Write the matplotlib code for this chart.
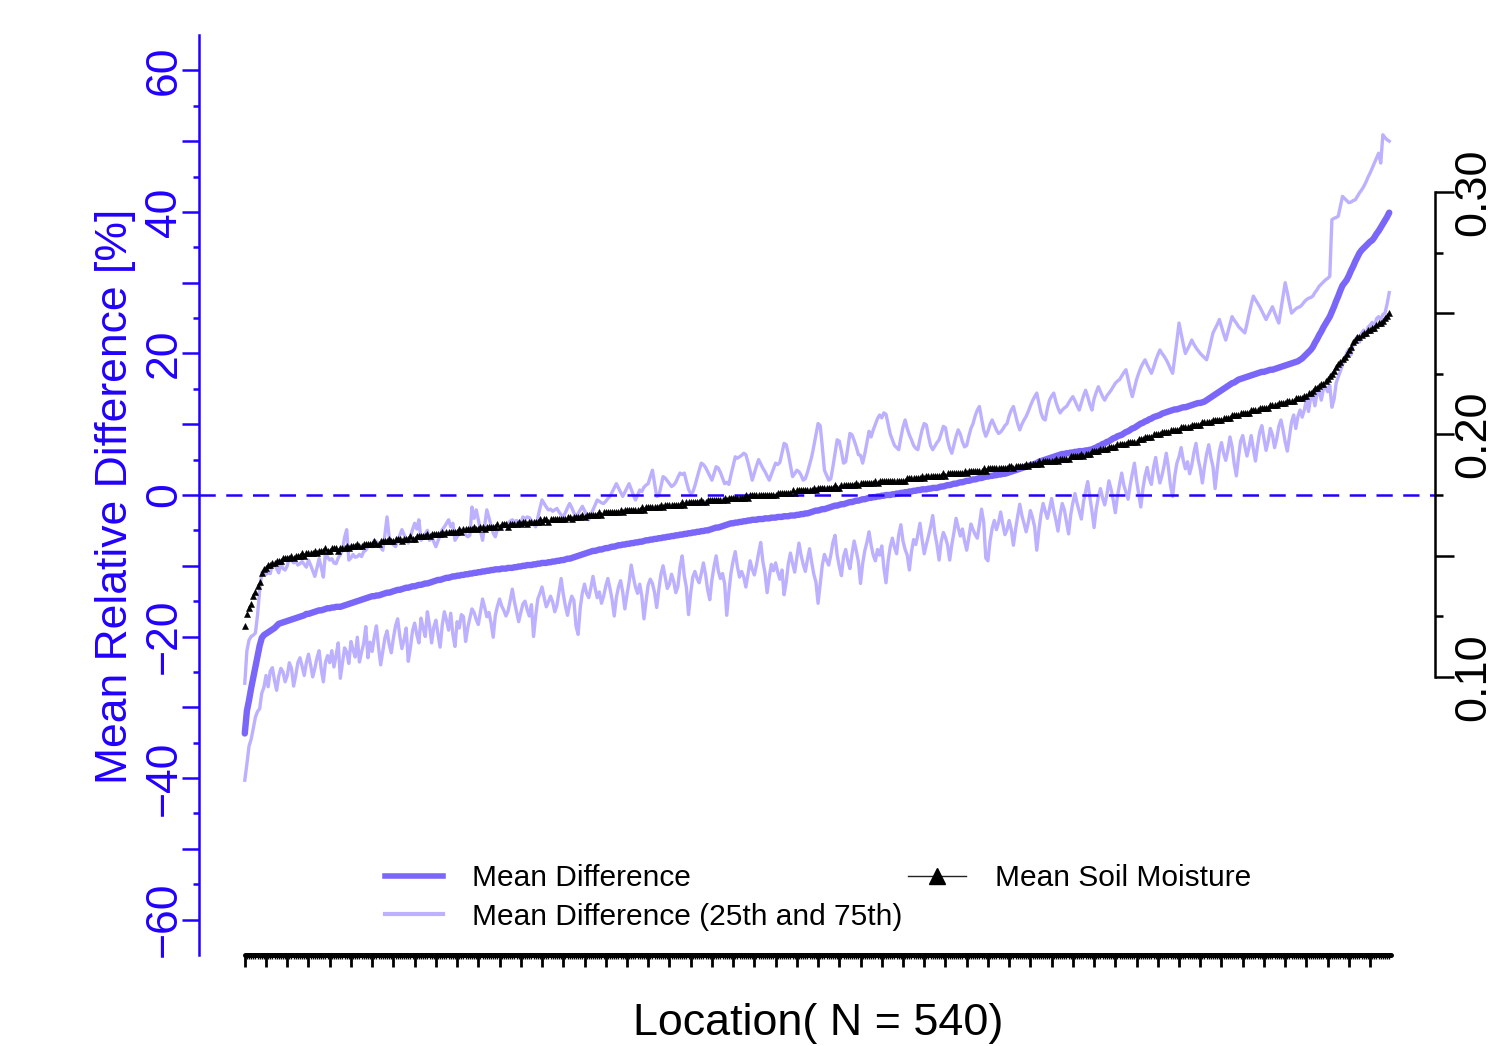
import numpy as np
from matplotlib import pyplot as plt
from matplotlib.lines import Line2D
from matplotlib.ticker import FixedLocator, FuncFormatter

plt.rcParams['font.family'] = ['Liberation Sans', 'DejaVu Sans']

# mean relative difference per location (sorted), percent
mean_diff = [
    -33.7, -30.5, -29.0, -27.3, -25.8, -24.3, -22.8, -21.3, -20.2, -19.8,
    -19.6, -19.4, -19.2, -19.0, -18.8, -18.5, -18.2, -18.1, -18.0, -17.9,
    -17.8, -17.7, -17.6, -17.5, -17.4, -17.3, -17.2, -17.1, -17.0, -16.8,
    -16.8, -16.7, -16.6, -16.5, -16.4, -16.3, -16.3, -16.2, -16.1, -16.0,
    -16.0, -15.9, -15.9, -15.8, -15.8, -15.8, -15.7, -15.6, -15.5, -15.4,
    -15.3, -15.2, -15.1, -15.0, -14.9, -14.8, -14.7, -14.6, -14.5, -14.4,
    -14.3, -14.3, -14.2, -14.2, -14.1, -14.0, -13.9, -13.8, -13.8, -13.7,
    -13.6, -13.5, -13.4, -13.4, -13.3, -13.2, -13.1, -13.1, -13.0, -12.9,
    -12.9, -12.8, -12.7, -12.7, -12.6, -12.5, -12.5, -12.4, -12.3, -12.2,
    -12.1, -12.0, -12.0, -11.9, -11.8, -11.7, -11.7, -11.6, -11.5, -11.5,
    -11.4, -11.4, -11.3, -11.3, -11.2, -11.2, -11.1, -11.1, -11.0, -11.0,
    -10.9, -10.9, -10.8, -10.8, -10.7, -10.7, -10.6, -10.6, -10.5, -10.5,
    -10.5, -10.4, -10.4, -10.4, -10.3, -10.3, -10.3, -10.2, -10.2, -10.1,
    -10.1, -10.0, -10.0, -9.9, -9.9, -9.9, -9.8, -9.8, -9.7, -9.7,
    -9.6, -9.6, -9.6, -9.5, -9.5, -9.4, -9.4, -9.3, -9.3, -9.2,
    -9.2, -9.1, -9.0, -9.0, -8.9, -8.8, -8.7, -8.6, -8.5, -8.4,
    -8.3, -8.2, -8.1, -8.0, -7.9, -7.9, -7.8, -7.7, -7.7, -7.6,
    -7.5, -7.5, -7.4, -7.3, -7.3, -7.2, -7.1, -7.1, -7.0, -7.0,
    -6.9, -6.9, -6.8, -6.8, -6.7, -6.7, -6.6, -6.6, -6.5, -6.4,
    -6.4, -6.3, -6.3, -6.2, -6.2, -6.1, -6.1, -6.0, -6.0, -5.9,
    -5.9, -5.8, -5.8, -5.7, -5.7, -5.6, -5.6, -5.5, -5.5, -5.4,
    -5.4, -5.3, -5.3, -5.2, -5.2, -5.1, -5.1, -5.0, -5.0, -4.9,
    -4.8, -4.7, -4.6, -4.6, -4.5, -4.4, -4.3, -4.2, -4.1, -4.0,
    -4.0, -3.9, -3.9, -3.8, -3.8, -3.7, -3.7, -3.6, -3.6, -3.5,
    -3.5, -3.5, -3.4, -3.4, -3.4, -3.3, -3.3, -3.3, -3.2, -3.2,
    -3.2, -3.1, -3.1, -3.1, -3.0, -3.0, -3.0, -2.9, -2.9, -2.9,
    -2.8, -2.8, -2.7, -2.7, -2.6, -2.6, -2.5, -2.4, -2.3, -2.2,
    -2.2, -2.1, -2.0, -2.0, -1.9, -1.8, -1.7, -1.6, -1.5, -1.5,
    -1.4, -1.3, -1.3, -1.2, -1.1, -1.0, -1.0, -0.9, -0.8, -0.8,
    -0.7, -0.6, -0.6, -0.5, -0.4, -0.4, -0.3, -0.3, -0.2, -0.2,
    -0.1, -0.1, 0.0, 0.0, 0.0, 0.1, 0.1, 0.2, 0.2, 0.3,
    0.3, 0.4, 0.4, 0.5, 0.5, 0.6, 0.6, 0.7, 0.7, 0.8,
    0.8, 0.8, 0.9, 0.9, 1.0, 1.0, 1.0, 1.1, 1.2, 1.2,
    1.3, 1.4, 1.4, 1.5, 1.6, 1.6, 1.7, 1.8, 1.8, 1.9,
    2.0, 2.0, 2.1, 2.2, 2.2, 2.3, 2.4, 2.4, 2.5, 2.6,
    2.6, 2.7, 2.7, 2.8, 2.8, 2.9, 2.9, 3.0, 3.0, 3.1,
    3.2, 3.3, 3.4, 3.5, 3.6, 3.7, 3.8, 3.9, 4.0, 4.1,
    4.2, 4.3, 4.4, 4.5, 4.7, 4.8, 4.9, 5.0, 5.1, 5.2,
    5.3, 5.4, 5.5, 5.6, 5.7, 5.8, 5.8, 5.9, 5.9, 6.0,
    6.0, 6.1, 6.1, 6.2, 6.2, 6.2, 6.3, 6.3, 6.4, 6.4,
    6.6, 6.7, 6.9, 7.0, 7.2, 7.3, 7.5, 7.6, 7.8, 8.0,
    8.1, 8.3, 8.4, 8.5, 8.7, 8.9, 9.0, 9.2, 9.4, 9.5,
    9.7, 9.9, 10.1, 10.2, 10.4, 10.5, 10.7, 10.8, 11.0, 11.1,
    11.2, 11.3, 11.5, 11.6, 11.7, 11.8, 11.9, 12.0, 12.1, 12.1,
    12.2, 12.3, 12.4, 12.4, 12.5, 12.6, 12.7, 12.8, 12.9, 13.0,
    13.0, 13.1, 13.2, 13.4, 13.6, 13.8, 14.0, 14.2, 14.4, 14.6,
    14.8, 15.0, 15.2, 15.4, 15.6, 15.8, 15.9, 16.1, 16.3, 16.4,
    16.5, 16.6, 16.7, 16.8, 16.9, 17.0, 17.1, 17.2, 17.3, 17.4,
    17.4, 17.5, 17.6, 17.7, 17.7, 17.8, 17.9, 18.0, 18.1, 18.2,
    18.3, 18.4, 18.5, 18.6, 18.7, 18.8, 18.9, 19.1, 19.3, 19.6,
    19.9, 20.2, 20.5, 20.9, 21.5, 22.0, 22.6, 23.1, 23.7, 24.2,
    24.7, 25.2, 25.9, 26.6, 27.4, 28.1, 28.9, 29.6, 30.0, 30.4,
    31.0, 31.7, 32.3, 33.0, 33.6, 34.2, 34.6, 34.9, 35.2, 35.5,
    35.8, 36.0, 36.4, 36.9, 37.3, 37.8, 38.3, 38.8, 39.3, 39.9,
]

# 25th percentile of the relative difference
q25 = [
    -40.3, -38.0, -35.5, -34.5, -33.0, -31.4, -30.6, -30.2, -28.0, -27.2,
    -25.5, -27.1, -24.9, -24.4, -26.2, -27.6, -25.6, -24.5, -25.0, -26.4,
    -25.5, -23.7, -24.5, -27.0, -25.5, -23.7, -23.0, -24.2, -25.5, -23.7,
    -22.5, -24.0, -25.7, -24.5, -23.0, -22.0, -24.6, -26.4, -23.6, -22.7,
    -23.7, -22.0, -24.3, -22.7, -20.9, -25.9, -23.8, -21.6, -22.2, -23.8,
    -20.7, -21.9, -22.9, -20.1, -23.6, -22.2, -21.0, -18.6, -23.0, -20.8,
    -22.1, -20.0, -18.5, -21.5, -24.0, -22.1, -20.2, -19.2, -21.1, -22.3,
    -20.2, -18.5, -17.5, -19.9, -21.7, -20.5, -18.8, -23.5, -21.6, -19.2,
    -18.1, -19.7, -20.9, -17.4, -18.8, -20.0, -16.5, -18.4, -20.9, -18.7,
    -17.7, -19.7, -21.5, -18.4, -16.5, -17.7, -19.1, -16.7, -19.7, -21.4,
    -17.9, -18.8, -16.9, -17.2, -20.7, -18.8, -17.4, -16.1, -16.6, -17.6,
    -18.3, -16.5, -14.7, -15.9, -17.2, -16.6, -18.1, -20.1, -17.0, -15.7,
    -14.7, -15.7, -16.3, -17.1, -16.4, -14.9, -13.3, -15.1, -16.5, -17.9,
    -16.6, -15.4, -15.0, -16.2, -17.1, -15.5, -20.0, -17.1, -14.7, -13.9,
    -13.0, -14.5, -15.8, -15.1, -14.3, -15.1, -16.5, -15.6, -13.7, -11.8,
    -14.0, -15.7, -17.0, -15.4, -14.3, -14.9, -18.5, -19.7, -15.9, -13.8,
    -12.6, -13.9, -14.5, -13.1, -11.5, -13.2, -14.5, -13.7, -15.3, -14.3,
    -12.9, -11.8, -13.2, -14.8, -17.1, -14.5, -13.0, -12.1, -13.7, -16.1,
    -14.1, -12.3, -9.9, -11.6, -13.0, -13.9, -12.6, -14.3, -17.5, -15.0,
    -12.7, -11.9, -12.5, -13.8, -15.9, -13.4, -11.2, -10.0, -11.6, -13.2,
    -12.6, -11.2, -12.2, -13.8, -12.9, -10.1, -8.6, -11.4, -13.1, -16.9,
    -13.9, -11.6, -10.8, -11.8, -12.4, -11.1, -9.6, -11.2, -13.4, -14.8,
    -12.0, -10.1, -8.6, -10.7, -11.8, -11.1, -12.5, -17.0, -13.7, -11.0,
    -9.3, -8.0, -10.1, -11.6, -10.8, -11.6, -13.0, -11.2, -9.3, -10.5,
    -11.3, -9.9, -8.2, -6.7, -9.4, -11.0, -13.8, -11.6, -9.8, -10.7,
    -9.6, -10.9, -11.9, -10.6, -14.1, -12.3, -9.7, -8.2, -9.7, -10.9,
    -8.8, -6.8, -8.5, -9.8, -10.8, -9.1, -7.6, -9.5, -11.2, -12.3,
    -15.3, -12.6, -9.9, -8.4, -9.2, -9.9, -8.5, -6.7, -5.7, -8.5,
    -10.1, -11.4, -8.7, -7.7, -9.3, -10.4, -8.3, -6.5, -7.9, -9.4,
    -12.5, -9.7, -7.9, -6.7, -5.2, -7.1, -8.5, -9.3, -7.7, -8.5,
    -7.2, -10.3, -12.4, -9.3, -7.3, -6.1, -7.4, -8.3, -5.6, -4.2,
    -6.5, -7.7, -8.5, -10.6, -8.0, -6.3, -7.0, -5.6, -4.0, -6.3,
    -8.3, -7.0, -5.8, -4.5, -2.9, -5.4, -7.0, -9.2, -6.6, -5.3,
    -6.0, -7.1, -9.2, -7.0, -5.3, -3.3, -4.6, -5.8, -4.8, -6.5,
    -7.8, -6.0, -4.1, -4.9, -5.6, -6.1, -4.2, -2.0, -3.8, -8.9,
    -9.3, -6.5, -4.7, -3.6, -4.9, -3.9, -2.4, -4.1, -5.6, -4.9,
    -3.6, -4.9, -7.1, -4.9, -3.0, -1.3, -2.9, -4.0, -5.2, -3.9,
    -2.2, -3.2, -4.5, -7.8, -5.0, -2.7, -1.2, -2.3, -3.3, -2.0,
    -0.5, -2.2, -3.5, -5.1, -2.8, -1.2, -2.1, -3.8, -5.5, -2.8,
    -1.1, 0.2, -1.2, -2.3, -3.4, -1.0, 0.5, 1.9, -0.3, -2.3,
    -4.6, -2.0, -0.3, 0.9, -0.4, -1.4, 0.0, 2.0, 0.8, -0.7,
    -2.5, -0.2, 1.5, 3.1, 1.4, 0.4, -0.6, 1.4, 3.0, 4.5,
    2.1, 0.2, -1.7, 0.9, 2.7, 3.9, 2.3, 1.5, 3.9, 5.3,
    3.2, 1.7, 2.8, 4.2, 5.9, 3.9, 1.3, -0.2, 2.7, 4.5,
    5.4, 6.7, 4.9, 3.7, 4.7, 3.0, 4.2, 6.0, 7.3, 5.1,
    3.7, 1.7, 4.0, 5.8, 7.1, 5.3, 4.0, 0.9, 3.7, 6.2,
    7.4, 5.9, 4.9, 6.3, 8.2, 6.8, 4.4, 2.7, 5.3, 7.6,
    8.4, 6.9, 5.5, 6.8, 8.4, 6.5, 4.8, 7.0, 8.9, 9.8,
    8.0, 6.3, 7.6, 9.4, 8.5, 6.7, 7.9, 9.7, 10.6, 9.2,
    7.5, 6.2, 8.3, 10.3, 11.3, 9.4, 11.1, 12.0, 11.0, 12.0,
    13.5, 11.8, 13.8, 14.1, 12.6, 14.4, 14.7, 13.4, 15.0, 15.3,
    14.6, 15.5, 12.4, 13.5, 15.8, 16.7, 17.5, 18.4, 19.2, 20.1,
    20.6, 19.8, 21.2, 21.9, 22.4, 21.6, 22.9, 23.3, 22.5, 23.7,
    24.0, 24.4, 23.6, 24.9, 25.2, 24.7, 25.5, 25.7, 27.0, 28.6,
]

# 75th percentile of the relative difference
q75 = [
    -26.6, -22.0, -20.5, -20.0, -19.8, -19.5, -17.0, -13.5, -11.0, -10.6,
    -11.2, -11.0, -11.1, -9.7, -9.8, -10.4, -11.0, -9.6, -10.4, -10.6,
    -10.0, -8.8, -9.2, -9.6, -9.3, -9.9, -9.7, -9.4, -9.8, -10.2,
    -9.2, -9.9, -10.7, -11.5, -10.3, -9.0, -10.2, -11.6, -8.2, -8.8,
    -9.2, -9.0, -9.6, -9.7, -8.9, -8.4, -7.8, -6.0, -4.9, -9.2,
    -8.9, -8.4, -8.8, -8.7, -8.4, -8.7, -8.0, -7.8, -7.3, -7.2,
    -7.3, -6.4, -6.6, -6.9, -7.4, -7.8, -5.6, -3.1, -5.9, -6.8,
    -7.0, -7.3, -6.5, -5.7, -4.9, -5.6, -6.2, -6.8, -5.9, -4.9,
    -4.0, -4.8, -3.5, -6.4, -6.0, -5.5, -5.0, -6.4, -5.8, -6.6,
    -7.3, -6.5, -5.7, -4.9, -4.5, -4.0, -3.5, -4.5, -4.0, -6.4,
    -5.9, -5.4, -4.9, -5.3, -5.6, -5.9, -5.7, -1.7, -3.3, -2.1,
    -3.5, -5.0, -6.4, -4.2, -2.1, -3.2, -4.3, -5.4, -5.9, -4.8,
    -4.9, -4.6, -4.5, -4.1, -4.0, -3.7, -3.5, -3.8, -3.6, -3.9,
    -4.0, -3.1, -3.4, -3.1, -3.2, -3.6, -4.1, -4.5, -3.2, -1.9,
    -0.7, -1.2, -1.7, -2.1, -2.0, -2.3, -2.1, -1.9, -2.4, -2.8,
    -3.1, -2.5, -1.8, -1.2, -1.8, -2.5, -3.1, -2.6, -2.1, -1.6,
    -2.2, -2.9, -3.5, -2.8, -2.1, -1.4, -0.7, -0.9, -1.1, -1.2,
    -0.9, -0.5, -0.2, 0.4, 1.0, 1.6, 1.0, 0.4, -0.2, 0.4,
    1.0, 1.6, 0.8, 0.0, -0.7, 0.0, 0.7, 0.5, 1.1, 1.4,
    1.6, 2.6, 3.5, 1.6, -0.2, -0.1, 1.2, 2.6, 2.4, 2.0,
    1.6, 1.2, 1.4, 1.8, 2.5, 3.1, 2.9, 3.1, 1.9, 0.8,
    0.2, 0.4, 1.3, 2.4, 3.5, 4.5, 4.3, 3.9, 3.3, 2.7,
    2.1, 3.0, 4.0, 3.8, 3.2, 2.4, 1.6, 1.8, 1.5, 2.9,
    4.1, 5.4, 5.2, 5.4, 5.6, 5.9, 5.7, 4.6, 3.4, 2.1,
    3.1, 4.1, 5.0, 4.4, 3.8, 3.3, 2.7, 2.1, 2.9, 3.7,
    4.5, 4.3, 4.6, 5.9, 7.3, 7.1, 5.8, 4.2, 2.6, 3.0,
    3.5, 3.3, 2.8, 2.1, 2.3, 3.2, 4.3, 5.4, 6.9, 8.5,
    10.1, 9.8, 6.8, 3.5, 2.8, 2.1, 2.3, 4.0, 5.9, 7.8,
    7.6, 6.2, 4.5, 4.7, 6.6, 8.7, 8.5, 7.7, 6.8, 5.7,
    5.6, 4.5, 5.8, 7.4, 9.0, 8.2, 9.2, 10.0, 10.8, 11.3,
    10.9, 11.6, 11.4, 10.0, 8.6, 7.8, 7.0, 6.7, 6.4, 8.1,
    9.6, 10.6, 9.4, 8.5, 7.8, 7.0, 6.6, 6.4, 7.9, 9.2,
    10.1, 9.9, 8.3, 7.0, 6.4, 6.9, 7.4, 7.8, 8.7, 9.7,
    9.5, 7.8, 6.6, 5.9, 7.1, 8.3, 9.2, 8.6, 7.5, 6.8,
    7.0, 8.3, 9.4, 10.1, 11.2, 12.0, 12.5, 10.8, 9.2, 8.3,
    9.0, 10.0, 10.6, 9.9, 9.2, 8.7, 8.9, 9.3, 9.8, 10.1,
    11.2, 12.0, 12.5, 11.3, 10.1, 9.2, 10.0, 10.6, 11.1, 11.8,
    12.6, 13.3, 13.9, 14.4, 13.0, 11.6, 10.8, 10.6, 12.2, 13.4,
    14.0, 14.4, 13.2, 12.3, 11.6, 12.0, 12.3, 12.5, 13.0, 13.5,
    13.9, 13.3, 12.6, 12.0, 13.0, 14.0, 14.8, 13.9, 12.8, 12.0,
    13.6, 14.5, 15.3, 14.6, 13.9, 13.4, 14.0, 14.4, 14.8, 15.3,
    15.8, 16.1, 16.3, 16.8, 17.3, 17.7, 16.4, 15.0, 13.9, 15.1,
    16.3, 17.2, 18.0, 18.6, 19.1, 18.4, 17.8, 17.2, 18.0, 19.0,
    19.8, 20.5, 20.0, 19.6, 19.1, 18.5, 17.8, 17.2, 19.5, 21.8,
    24.3, 22.8, 21.3, 20.0, 20.6, 21.2, 21.9, 21.3, 20.8, 20.4,
    20.0, 19.7, 19.4, 19.1, 20.3, 21.6, 22.9, 23.5, 24.1, 24.8,
    23.8, 22.8, 21.9, 23.0, 24.1, 25.2, 24.7, 24.3, 23.8, 23.5,
    23.2, 22.9, 24.2, 25.6, 26.9, 28.1, 27.6, 27.1, 26.6, 26.0,
    25.4, 24.8, 25.4, 26.0, 26.6, 25.8, 25.0, 24.3, 26.2, 28.1,
    30.0, 28.6, 27.1, 25.7, 26.0, 26.3, 26.5, 26.6, 26.9, 27.3,
    27.6, 27.8, 27.9, 28.1, 28.6, 29.0, 29.5, 29.8, 30.1, 30.4,
    30.6, 30.9, 38.9, 39.1, 39.2, 39.4, 40.8, 42.2, 41.9, 41.6,
    41.3, 41.4, 41.6, 41.7, 42.2, 42.7, 43.1, 43.6, 44.2, 44.9,
    45.5, 46.2, 46.9, 47.6, 48.3, 46.9, 50.9, 50.5, 50.2, 50.0,
]

# mean soil moisture per location (right axis)
soil = [
    0.121, 0.126, 0.1285, 0.130, 0.1335, 0.135, 0.1375, 0.139, 0.143, 0.1445,
    0.145, 0.146, 0.146, 0.147, 0.147, 0.148, 0.148, 0.148, 0.149, 0.149,
    0.149, 0.149, 0.150, 0.149, 0.150, 0.150, 0.150, 0.151, 0.150, 0.151,
    0.151, 0.151, 0.151, 0.152, 0.151, 0.152, 0.152, 0.152, 0.153, 0.152,
    0.152, 0.153, 0.153, 0.153, 0.152, 0.153, 0.153, 0.153, 0.154, 0.153,
    0.154, 0.154, 0.154, 0.155, 0.154, 0.154, 0.155, 0.155, 0.155, 0.155,
    0.155, 0.156, 0.155, 0.155, 0.156, 0.156, 0.156, 0.156, 0.157, 0.156,
    0.156, 0.157, 0.157, 0.157, 0.156, 0.157, 0.157, 0.157, 0.158, 0.157,
    0.157, 0.158, 0.158, 0.158, 0.158, 0.158, 0.159, 0.158, 0.159, 0.159,
    0.159, 0.159, 0.159, 0.160, 0.159, 0.160, 0.160, 0.160, 0.160, 0.160,
    0.160, 0.161, 0.160, 0.161, 0.161, 0.161, 0.161, 0.161, 0.162, 0.161,
    0.161, 0.162, 0.162, 0.161, 0.162, 0.162, 0.162, 0.162, 0.162, 0.163,
    0.162, 0.163, 0.163, 0.163, 0.162, 0.163, 0.163, 0.163, 0.163, 0.164,
    0.163, 0.164, 0.164, 0.163, 0.164, 0.164, 0.164, 0.164, 0.164, 0.165,
    0.164, 0.165, 0.165, 0.164, 0.165, 0.165, 0.165, 0.165, 0.165, 0.165,
    0.165, 0.165, 0.166, 0.166, 0.165, 0.166, 0.166, 0.166, 0.166, 0.167,
    0.166, 0.167, 0.167, 0.167, 0.167, 0.167, 0.167, 0.168, 0.167, 0.168,
    0.168, 0.168, 0.168, 0.168, 0.168, 0.168, 0.168, 0.169, 0.168, 0.169,
    0.169, 0.169, 0.169, 0.169, 0.169, 0.169, 0.169, 0.170, 0.169, 0.170,
    0.170, 0.170, 0.170, 0.170, 0.170, 0.170, 0.171, 0.170, 0.171, 0.171,
    0.171, 0.171, 0.171, 0.171, 0.171, 0.171, 0.172, 0.171, 0.172, 0.172,
    0.172, 0.172, 0.172, 0.172, 0.172, 0.173, 0.172, 0.172, 0.173, 0.173,
    0.173, 0.173, 0.173, 0.173, 0.173, 0.173, 0.174, 0.173, 0.174, 0.174,
    0.174, 0.174, 0.174, 0.174, 0.174, 0.174, 0.175, 0.174, 0.175, 0.175,
    0.175, 0.175, 0.175, 0.175, 0.175, 0.175, 0.175, 0.175, 0.175, 0.175,
    0.175, 0.176, 0.176, 0.176, 0.176, 0.176, 0.176, 0.176, 0.177, 0.176,
    0.177, 0.177, 0.177, 0.177, 0.177, 0.177, 0.177, 0.177, 0.178, 0.177,
    0.178, 0.178, 0.178, 0.178, 0.178, 0.178, 0.178, 0.178, 0.179, 0.178,
    0.178, 0.179, 0.179, 0.179, 0.179, 0.179, 0.179, 0.179, 0.180, 0.179,
    0.180, 0.180, 0.180, 0.180, 0.180, 0.180, 0.180, 0.181, 0.180, 0.181,
    0.181, 0.181, 0.181, 0.181, 0.181, 0.181, 0.181, 0.181, 0.181, 0.181,
    0.181, 0.181, 0.182, 0.182, 0.182, 0.182, 0.182, 0.182, 0.182, 0.183,
    0.182, 0.183, 0.183, 0.183, 0.183, 0.183, 0.183, 0.183, 0.183, 0.184,
    0.183, 0.184, 0.184, 0.184, 0.184, 0.184, 0.184, 0.184, 0.184, 0.185,
    0.184, 0.185, 0.185, 0.185, 0.185, 0.185, 0.185, 0.185, 0.186, 0.185,
    0.186, 0.186, 0.186, 0.186, 0.186, 0.186, 0.186, 0.186, 0.186, 0.186,
    0.187, 0.187, 0.186, 0.187, 0.187, 0.187, 0.187, 0.187, 0.188, 0.187,
    0.188, 0.188, 0.188, 0.188, 0.189, 0.188, 0.189, 0.189, 0.189, 0.189,
    0.189, 0.189, 0.190, 0.189, 0.190, 0.190, 0.190, 0.190, 0.190, 0.191,
    0.191, 0.191, 0.191, 0.191, 0.192, 0.191, 0.192, 0.192, 0.192, 0.193,
    0.193, 0.193, 0.193, 0.194, 0.194, 0.194, 0.194, 0.195, 0.195, 0.195,
    0.195, 0.196, 0.196, 0.196, 0.196, 0.196, 0.197, 0.197, 0.197, 0.197,
    0.197, 0.198, 0.198, 0.198, 0.199, 0.199, 0.199, 0.199, 0.200, 0.200,
    0.200, 0.200, 0.201, 0.201, 0.201, 0.201, 0.202, 0.202, 0.202, 0.202,
    0.202, 0.203, 0.203, 0.203, 0.203, 0.203, 0.204, 0.204, 0.204, 0.204,
    0.204, 0.205, 0.205, 0.205, 0.205, 0.205, 0.206, 0.206, 0.206, 0.206,
    0.206, 0.207, 0.207, 0.207, 0.207, 0.208, 0.208, 0.208, 0.208, 0.209,
    0.209, 0.209, 0.209, 0.209, 0.210, 0.210, 0.210, 0.210, 0.211, 0.211,
    0.211, 0.211, 0.211, 0.212, 0.212, 0.212, 0.212, 0.213, 0.213, 0.213,
    0.213, 0.214, 0.214, 0.214, 0.214, 0.215, 0.215, 0.215, 0.215, 0.216,
    0.216, 0.217, 0.217, 0.218, 0.219, 0.219, 0.220, 0.221, 0.221, 0.222,
    0.223, 0.224, 0.225, 0.226, 0.228, 0.229, 0.230, 0.231, 0.232, 0.233,
    0.235, 0.236, 0.238, 0.239, 0.240, 0.240, 0.241, 0.242, 0.242, 0.243,
    0.243, 0.244, 0.244, 0.245, 0.246, 0.246, 0.247, 0.248, 0.249, 0.250,
]

location = np.arange(len(mean_diff))

blue = '#2200ff'
mean_col = '#7a66f8'
quart_col = '#bcb0ff'

W, H = 1503, 1046
fig = plt.figure(figsize=(W / 100, H / 100), dpi=100)
fig.patch.set_facecolor('white')

# plot region in pixels: x 199..1435, y 35..955
ax = fig.add_axes([199 / W, 1 - 955 / H, (1435 - 199) / W, (955 - 35) / H])
ax.set_xlim(-21.56, 560.56)
ax.set_ylim(-65, 65)

ax.plot(location, q25, color=quart_col, lw=2.4, zorder=2)
ax.plot(location, q75, color=quart_col, lw=2.4, zorder=2)
ax.plot(location, mean_diff, color=mean_col, lw=4.6, solid_capstyle='round', zorder=3)
ax.axhline(0, color=blue, lw=1.8, ls=(0, (6.5, 4.2)), zorder=4)

for s in ['top', 'right']:
    ax.spines[s].set_visible(False)
ax.spines['left'].set_color(blue)
ax.spines['left'].set_linewidth(1.8)
ax.spines['bottom'].set_linewidth(3.6)
ax.spines['bottom'].set_bounds(0, 540)
ax.spines['bottom'].set_capstyle('round')

ax.yaxis.set_major_locator(FixedLocator(np.arange(-60, 61, 10)))
ax.yaxis.set_minor_locator(FixedLocator(np.arange(-55, 56, 10)))
ax.yaxis.set_major_formatter(FuncFormatter(
    lambda v, p: (f'{v:.0f}'.replace('-', '\u2212') if v % 20 == 0 else '')))
ax.tick_params(axis='y', which='major', length=12, width=1.8, color=blue,
               labelcolor=blue, labelsize=32, labelrotation=90, pad=-2)
ax.tick_params(axis='y', which='minor', length=4.5, width=1.8, color=blue)
for lab in ax.get_yticklabels():
    lab.set_va('center')

ax.xaxis.set_major_locator(FixedLocator(np.arange(0, 531, 10)))
ax.xaxis.set_minor_locator(FixedLocator(np.arange(0, 540, 1)))
ax.tick_params(axis='x', which='major', length=8.5, width=2.0, labelbottom=False)
ax.tick_params(axis='x', which='minor', length=3.2, width=1.0)

# soil moisture on the right axis
ax2 = ax.twinx()
ax2.set_ylim(0.10 - (955 - 677) / 2425, 0.30 + (192 - 35) / 2425)
ax2.plot(location, soil, ls='none', marker='^', ms=4.2,
         mec='black', mfc='black', mew=0.4, zorder=5)
for s in ['top', 'left', 'bottom']:
    ax2.spines[s].set_visible(False)
ax2.spines['right'].set_bounds(0.10, 0.30)
ax2.spines['right'].set_linewidth(1.8)
ax2.yaxis.set_major_locator(FixedLocator([0.10, 0.15, 0.20, 0.25, 0.30]))
ax2.yaxis.set_minor_locator(FixedLocator([0.125, 0.175, 0.225, 0.275]))
ax2.yaxis.set_major_formatter(FuncFormatter(
    lambda v, p: (f'{v:.2f}' if round(v * 100) % 10 == 0 else '')))
ax2.tick_params(axis='y', which='major', length=13.5, width=1.8,
                labelsize=32.5, labelrotation=90, pad=0)
ax2.tick_params(axis='y', which='minor', length=5.5, width=1.8)
for lab in ax2.get_yticklabels():
    lab.set_va('center')

# axis titles
fig.text(115 / W, 1 - 496 / H, 'Mean Relative Difference [%]', rotation=90,
         ha='center', va='center', color=blue, fontsize=32)
fig.text(818 / W, 1 - 1035 / H, 'Location( N = 540)', ha='center',
         va='baseline', fontsize=32.3)

handles = [
    Line2D([], [], color=mean_col, lw=4.0),
    Line2D([], [], color=quart_col, lw=3.0),
    Line2D([], [], color='#222222', lw=1.0, marker='^', ms=11,
           mfc='black', mec='black'),
]
labels = ['Mean Difference', 'Mean Difference (25th and 75th)',
          'Mean Soil Moisture']
fig.legend(handles, labels, ncol=2, frameon=False, fontsize=21.5,
           loc='upper left', bbox_to_anchor=(385 / W, 1 - 864 / H),
           bbox_transform=fig.transFigure, borderpad=0, borderaxespad=0,
           handlelength=1.95, handletextpad=0.95, columnspacing=0.2,
           labelspacing=0.36)

fig.savefig('out.png', dpi=100, facecolor='white')
